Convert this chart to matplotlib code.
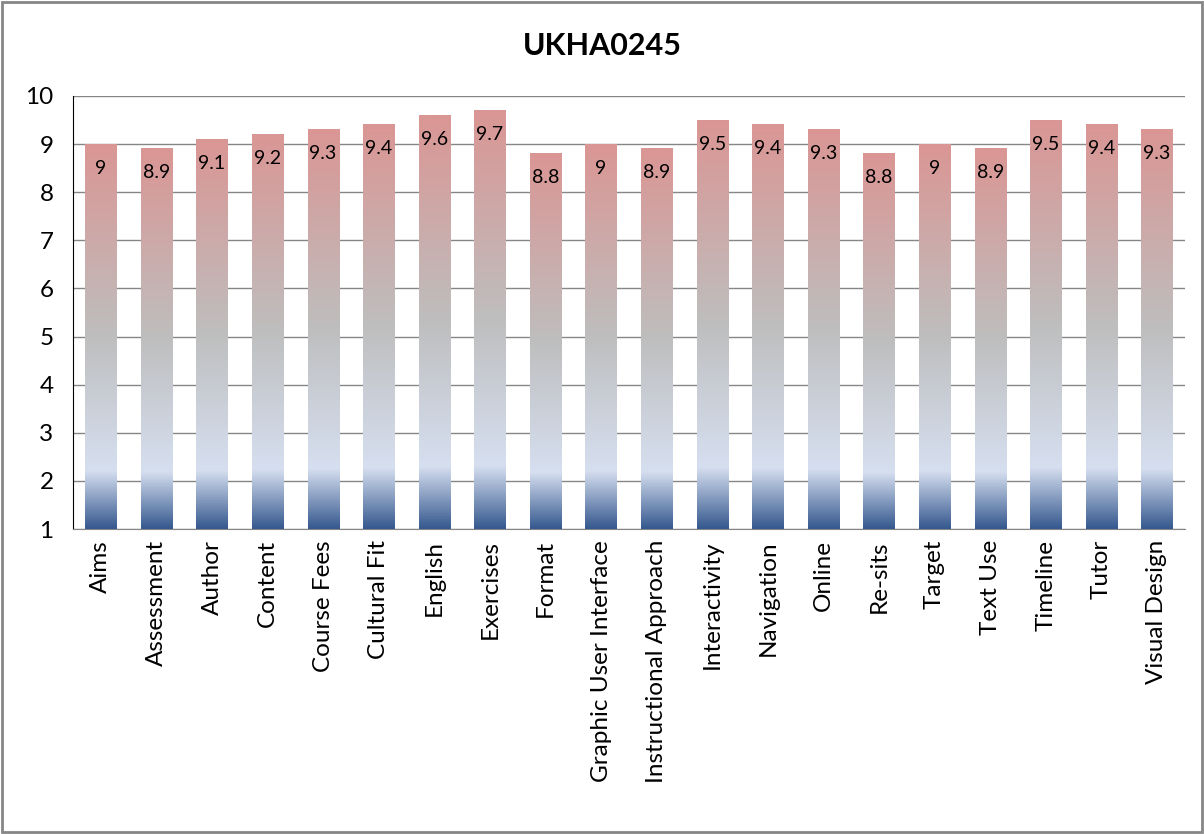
import numpy as np
import matplotlib
matplotlib.use("Agg")
import matplotlib.pyplot as plt
from matplotlib.colors import LinearSegmentedColormap

categorias = ["Aims", "Assessment", "Author", "Content", "Course Fees", "Cultural Fit",
              "English", "Exercises", "Format", "Graphic User Interface",
              "Instructional Approach", "Interactivity", "Navigation", "Online",
              "Re-sits", "Target", "Text Use", "Timeline", "Tutor", "Visual Design"]
notas = [9, 8.9, 9.1, 9.2, 9.3, 9.4, 9.6, 9.7, 8.8, 9, 8.9, 9.5, 9.4, 9.3, 8.8, 9,
         8.9, 9.5, 9.4, 9.3]
rotulos = ["9", "8.9", "9.1", "9.2", "9.3", "9.4", "9.6", "9.7", "8.8", "9", "8.9",
           "9.5", "9.4", "9.3", "8.8", "9", "8.9", "9.5", "9.4", "9.3"]

plt.rcParams['font.family'] = ['Lato', 'DejaVu Sans']

# gradiente estilo Excel: azul escuro -> azul claro -> cinza -> rosa
gradiente = LinearSegmentedColormap.from_list("excel", [
    (0.0, "#36598f"), (0.15, "#d6dff0"), (0.5, "#bebebe"), (1.0, "#da9694")])

fig = plt.figure(figsize=(12.04, 8.34), dpi=100)
ax = fig.add_axes([0.0606, 0.3657, 0.9234, 0.5192])

base = 1
largura = 0.56
x = np.arange(len(categorias))
barras = ax.bar(x, np.array(notas) - base, bottom=base, width=largura, color="none",
                edgecolor="none", zorder=3)

img = np.linspace(0, 1, 256).reshape(-1, 1)
for b in barras:
    x0, y0 = b.get_x(), b.get_y()
    ax.imshow(img, cmap=gradiente, origin="lower", aspect="auto",
              extent=[x0, x0 + b.get_width(), y0, y0 + b.get_height()], zorder=3)

for xi, v, r in zip(x, notas, rotulos):
    ax.text(xi, v - 0.5, r, ha="center", va="center", fontsize=14, zorder=4)

ax.set_xlim(-0.5, len(categorias) - 0.5)
ax.set_ylim(1, 10)
ax.set_yticks(range(1, 11))
ax.yaxis.grid(True, color="#868686", linewidth=1, zorder=0)
ax.set_axisbelow(True)
ax.set_xticks(x)
ax.set_xticklabels(categorias, rotation=90, fontsize=17.5)
ax.tick_params(axis="y", labelsize=17.5, length=0, pad=14)
ax.tick_params(axis="x", length=0, pad=8)
for lado in ["top", "right"]:
    ax.spines[lado].set_visible(False)
ax.spines["left"].set_color("black")
ax.spines["bottom"].set_color("#868686")

fig.text(0.5, 0.945, "UKHA0245", ha="center", va="center", fontsize=22, fontweight="bold")

# moldura cinza em volta do grafico
fig.patches.append(plt.Rectangle((0.002, 0.002), 0.996, 0.996, transform=fig.transFigure,
                                 fill=False, edgecolor="#868686", linewidth=2))

fig.savefig("out.png", dpi=100)
